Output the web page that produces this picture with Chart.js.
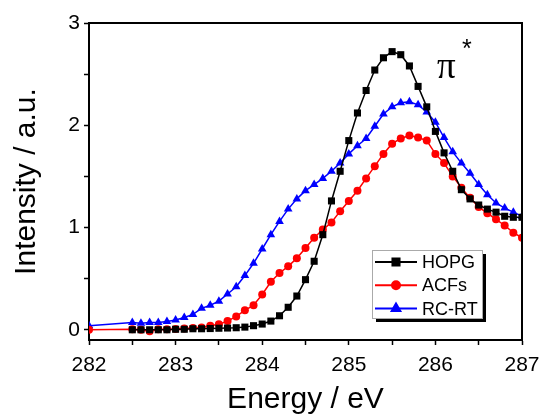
<!DOCTYPE html>
<html lang="en">
<head>
<meta charset="UTF-8">
<title>Intensity vs Energy</title>
<script src="https://cdn.jsdelivr.net/npm/chart.js"></script>
<style>
  html, body { margin: 0; padding: 0; background: #fff; }
  #wrap { width: 543px; height: 414px; }
</style>
</head>
<body>
<div id="wrap"><canvas id="chart" width="543" height="414"></canvas></div>
<script>
// energy grid (eV)
const energyHopg = [
  282.5, 282.6, 282.7, 282.8, 282.9,
  283.0, 283.1, 283.2, 283.3, 283.4, 283.5, 283.6, 283.7, 283.8, 283.9,
  284.0, 284.1, 284.2, 284.3, 284.4, 284.5, 284.6, 284.7, 284.8, 284.9,
  285.0, 285.1, 285.2, 285.3, 285.4, 285.5, 285.6, 285.7, 285.8, 285.9,
  286.0, 286.1, 286.2, 286.3, 286.4, 286.5, 286.6, 286.7, 286.8, 286.9,
  287.0
];
const energyOther = [282.0].concat(energyHopg);

const hopg = [
  0.00, 0.00, 0.00, 0.00, 0.00,
  0.005, 0.005, 0.01, 0.01, 0.012, 0.015, 0.017, 0.02, 0.026, 0.04,
  0.056, 0.085, 0.137, 0.22, 0.33, 0.49, 0.67, 0.93, 1.26, 1.55,
  1.85, 2.12, 2.34, 2.54, 2.66, 2.72, 2.69, 2.58, 2.38, 2.18,
  1.94, 1.73, 1.55, 1.37, 1.28, 1.22, 1.18, 1.15, 1.11, 1.10,
  1.10
];
const acfs = [
  0.0,
  0.005, 0.0, -0.015, 0.005, 0.005,
  0.007, 0.012, 0.017, 0.023, 0.04, 0.055, 0.085, 0.13, 0.19, 0.24,
  0.345, 0.47, 0.555, 0.62, 0.70, 0.80, 0.90, 0.98, 1.05, 1.16,
  1.26, 1.36, 1.48, 1.60, 1.72, 1.82, 1.87, 1.90, 1.88, 1.85,
  1.72, 1.63, 1.50, 1.39, 1.29, 1.20, 1.14, 1.08, 1.02, 0.95,
  0.90
];
const rcrt = [
  0.04,
  0.07, 0.065, 0.07, 0.07, 0.08,
  0.095, 0.12, 0.15, 0.21, 0.24, 0.28, 0.35, 0.42, 0.53, 0.65,
  0.79, 0.93, 1.06, 1.18, 1.28, 1.36, 1.42, 1.48, 1.55, 1.63,
  1.72, 1.80, 1.87, 1.99, 2.11, 2.18, 2.22, 2.23, 2.20, 2.13,
  2.03, 1.88, 1.74, 1.63, 1.53, 1.42, 1.32, 1.24, 1.19, 1.15,
  1.11
];

const seriesNames = ['HOPG', 'ACFs', 'RC-RT'];
const xTicks = [282, 282.5, 283, 283.5, 284, 284.5, 285, 285.5, 286, 286.5, 287];
const yTicks = [0, 0.5, 1, 1.5, 2, 2.5, 3];

const FONT = '"Liberation Sans", Arial, sans-serif';

function pts(xs, ys) {
  return xs.map((x, i) => ({ x: x, y: ys[i] }));
}

// frame, pi* label and the framed legend with its shadow
const extras = {
  id: 'extras',
  afterDraw(chart) {
    const ctx = chart.ctx;
    const a = chart.chartArea;
    ctx.save();
    ctx.strokeStyle = '#000';
    ctx.lineWidth = 2;
    ctx.beginPath();
    ctx.moveTo(a.left, a.top);
    ctx.lineTo(a.right, a.top);
    ctx.lineTo(a.right, a.bottom);
    ctx.stroke();

    ctx.fillStyle = '#000';
    ctx.textBaseline = 'alphabetic';
    ctx.textAlign = 'left';
    ctx.font = '37px "Liberation Serif", serif';
    ctx.fillText('π', 437, 78);
    ctx.font = '25px ' + FONT;
    ctx.fillText('*', 462, 57);

    const bx = 372, by = 250, bw = 110, bh = 68;
    ctx.fillStyle = '#000';
    ctx.fillRect(bx + 4, by + 4, bw, bh);
    ctx.fillStyle = '#fff';
    ctx.fillRect(bx, by, bw, bh);
    ctx.strokeStyle = '#aaa';
    ctx.lineWidth = 1;
    ctx.strokeRect(bx + 0.5, by + 0.5, bw, bh);

    ctx.font = '18px ' + FONT;
    ctx.textBaseline = 'middle';
    chart.data.datasets.forEach((ds, i) => {
      const y = 262 + i * 23.3;
      ctx.strokeStyle = ds.borderColor;
      ctx.fillStyle = ds.backgroundColor;
      ctx.lineWidth = 2;
      ctx.beginPath();
      ctx.moveTo(375, y);
      ctx.lineTo(417, y);
      ctx.stroke();
      Chart.helpers.drawPoint(ctx, {
        pointStyle: ds.pointStyle, radius: ds.pointRadius, borderWidth: 1, rotation: 0
      }, 396, y);
      ctx.fillStyle = '#000';
      ctx.fillText(ds.label, 422, y + 1);
    });
    ctx.restore();
  }
};

new Chart(document.getElementById('chart'), {
  type: 'line',
  data: {
    datasets: [
      {
        label: seriesNames[0], data: pts(energyHopg, hopg),
        borderColor: '#000', backgroundColor: '#000', borderWidth: 1.5,
        pointStyle: 'rect', pointRadius: 5, pointBorderWidth: 0, tension: 0, clip: 0
      },
      {
        label: seriesNames[1], data: pts(energyOther, acfs),
        borderColor: '#ff0000', backgroundColor: '#ff0000', borderWidth: 1.5,
        pointStyle: 'circle', pointRadius: 4, pointBorderWidth: 0, tension: 0, clip: 0
      },
      {
        label: seriesNames[2], data: pts(energyOther, rcrt),
        borderColor: '#0000ff', backgroundColor: '#0000ff', borderWidth: 1.5,
        pointStyle: 'triangle', pointRadius: 5, pointBorderWidth: 0, tension: 0, clip: 0
      }
    ]
  },
  options: {
    responsive: false,
    animation: false,
    layout: { padding: { top: 23, right: 21, left: 0, bottom: 0 } },
    plugins: { legend: { display: false }, tooltip: { enabled: false } },
    scales: {
      x: {
        type: 'linear', min: 282, max: 287,
        afterBuildTicks: s => { s.ticks = xTicks.map(v => ({ value: v })); },
        afterFit: s => { s.height = 74; s.paddingLeft = 0; s.paddingRight = 0; },
        ticks: {
          callback: v => Number.isInteger(v) ? String(v) : '',
          font: { family: FONT, size: 21 }, color: '#000',
          padding: 8, maxRotation: 0, autoSkip: false
        },
        grid: { drawOnChartArea: false, drawTicks: true, tickLength: 5, tickColor: '#000', tickWidth: 1.5 },
        border: { color: '#000', width: 2 },
        title: {
          display: true, text: 'Energy / eV', color: '#000',
          font: { family: FONT, size: 30, lineHeight: 0.95 }, padding: { top: 0, bottom: 0 }
        }
      },
      y: {
        min: -0.1, max: 3,
        afterBuildTicks: s => { s.ticks = yTicks.map(v => ({ value: v })); },
        afterFit: s => { s.width = 89; s.paddingTop = 0; s.paddingBottom = 0; },
        ticks: {
          callback: v => Number.isInteger(v) ? String(v) : '',
          font: { family: FONT, size: 21 }, color: '#000', padding: 4
        },
        grid: { drawOnChartArea: false, drawTicks: true, tickLength: 5, tickColor: '#000', tickWidth: 1.5 },
        border: { color: '#000', width: 2 },
        title: {
          display: true, text: 'Intensity / a.u.', color: '#000',
          font: { family: FONT, size: 30, lineHeight: 1.1 }, padding: { top: 10, bottom: 0 }
        }
      }
    }
  },
  plugins: [extras]
});
</script>
</body>
</html>
